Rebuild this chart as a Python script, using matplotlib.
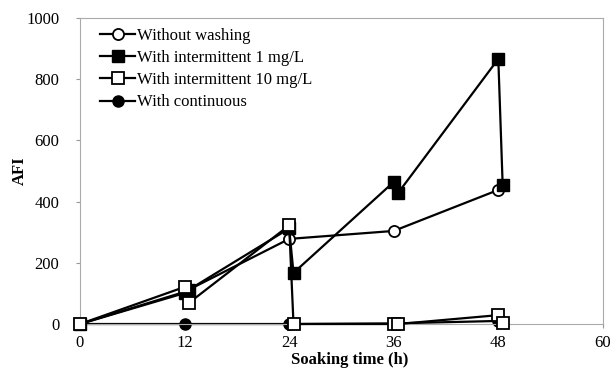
import matplotlib.pyplot as plt

plt.rcParams["font.family"] = ["Liberation Serif", "DejaVu Serif"]

# measurements before / after each washing step (x offsets of 0.5 h)
t_without = [0, 12, 24, 36, 48]
afi_without = [0, 105, 278, 304, 438]

t_int1 = [0, 12, 12.5, 24, 24.5, 36, 36.5, 48, 48.5]
afi_int1 = [0, 101, 112, 312, 167, 464, 428, 866, 454]

t_int10 = [0, 12, 12.5, 24, 24.5, 36, 36.5, 48, 48.5]
afi_int10 = [0, 121, 69, 322, 0, 0, 0, 29, 2]

t_cont = [0, 12, 24, 36, 48]
afi_cont = [0, 0, 0, 2, 10]

labels = ["Without washing", "With intermittent 1 mg/L",
          "With intermittent 10 mg/L", "With continuous"]
xticks = [0, 12, 24, 36, 48, 60]
yticks = [0, 200, 400, 600, 800, 1000]

fig = plt.figure(figsize=(6.13, 3.72), dpi=100)
ax = fig.add_axes([0.1305, 0.129, 0.853, 0.823])

style = dict(color="black", lw=1.6, ms=8, clip_on=False)
ax.plot(t_without, afi_without, marker="o", mfc="white", mew=1.3, label=labels[0], zorder=3, **style)
ax.plot(t_int1, afi_int1, marker="s", mfc="black", label=labels[1], zorder=4, **style)
ax.plot(t_int10, afi_int10, marker="s", mfc="white", mew=1.3, label=labels[2], zorder=5, **style)
ax.plot(t_cont, afi_cont, marker="o", mfc="black", label=labels[3], zorder=2, **style)

ax.set_xlim(0, 60)
ax.set_ylim(0, 1000)
ax.set_xticks(xticks)
ax.set_yticks(yticks)
ax.tick_params(labelsize=12, color="#999999", length=3)
ax.tick_params(axis="x", pad=5)
ax.tick_params(axis="y", pad=12)
for sp in ax.spines.values():
    sp.set_color("#aaaaaa")
    sp.set_linewidth(0.8)

ax.set_xlabel("Soaking time (h)", fontsize=12, fontweight="bold")
ax.xaxis.set_label_coords(0.515, -0.093)
ax.set_ylabel("AFI", fontsize=12, fontweight="bold")
ax.yaxis.set_label_coords(-0.1, 0.5)

ax.legend(loc="upper left", frameon=False, fontsize=12, handlelength=2.1,
          handletextpad=0.1, labelspacing=0.37, borderaxespad=0.2,
          bbox_to_anchor=(0.02, 1.0))

fig.savefig("out.png", dpi=100)
